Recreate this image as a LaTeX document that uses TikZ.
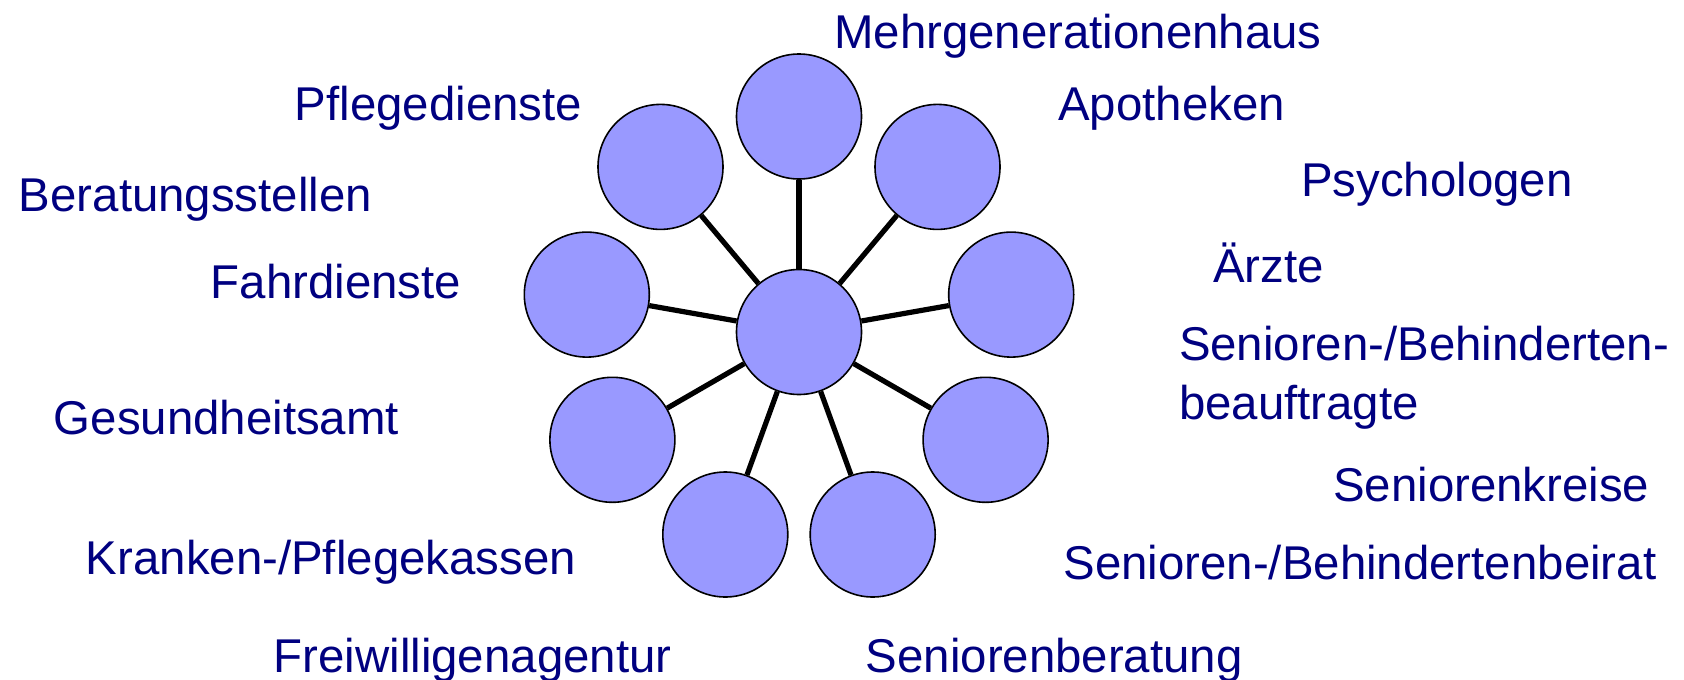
\documentclass[tikz,border=0pt]{standalone}
\usepackage{fontspec}
\setmainfont{Liberation Sans}
\definecolor{ringfill}{HTML}{9999FF}
\definecolor{labelnavy}{HTML}{000080}
\begin{document}
\begin{tikzpicture}[x=1pt,y=-1pt,
  ball/.style={circle,draw=black,line width=1.6pt,fill=ringfill,minimum size=125pt,inner sep=0pt},
  spoke/.style={line width=5.2pt,black},
  lbl/.style={anchor=base west,inner sep=0pt,text=labelnavy,font=\fontsize{47.4}{58.6}\selectfont,align=left}]
\useasboundingbox (0,0) rectangle (1684,680);
% circles
\node[ball] (c) at (799,332) {};
\node[ball] (n1) at (799,116.5) {};
\node[ball] (n2) at (660.5,166.9) {};
\node[ball] (n3) at (586.8,294.6) {};
\node[ball] (n4) at (612.4,439.8) {};
\node[ball] (n5) at (725.3,534.5) {};
\node[ball] (n6) at (872.7,534.5) {};
\node[ball] (n7) at (985.6,439.8) {};
\node[ball] (n8) at (1011.2,294.6) {};
\node[ball] (n9) at (937.5,166.9) {};
% spokes
\foreach \n in {n1,n2,n3,n4,n5,n6,n7,n8,n9}{\draw[spoke] (c) -- (\n);}
% labels
\node[lbl] (t1) at (834,48) {Mehrgenerationenhaus};
\node[lbl] (t2) at (294.6,120.6) {Pflegedienste};
\node[lbl] (t3) at (1058,120.6) {Apotheken};
\node[lbl] (t4) at (18.7,211.6) {Beratungsstellen};
\node[lbl] (t5) at (1301,196) {Psychologen};
\node[lbl] (t6) at (210.7,298.4) {Fahrdienste};
\node[lbl] (t7) at (1212.9,282.8) {Ärzte};
\node[lbl] (t8) at (1178.8,419.4) {Senioren-/Behinderten-\\beauftragte};
\node[lbl] (t9) at (53.6,434.6) {Gesundheitsamt};
\node[lbl] (t10) at (1333,501.8) {Seniorenkreise};
\node[lbl] (t11) at (85.7,574.7) {Kranken-/Pflegekassen};
\node[lbl] (t12) at (1063.2,579) {Senioren-/Behindertenbeirat};
\node[lbl] (t13) at (273.5,672) {Freiwilligenagentur};
\node[lbl] (t14) at (865.6,672) {Seniorenberatung};
\end{tikzpicture}
\end{document}
